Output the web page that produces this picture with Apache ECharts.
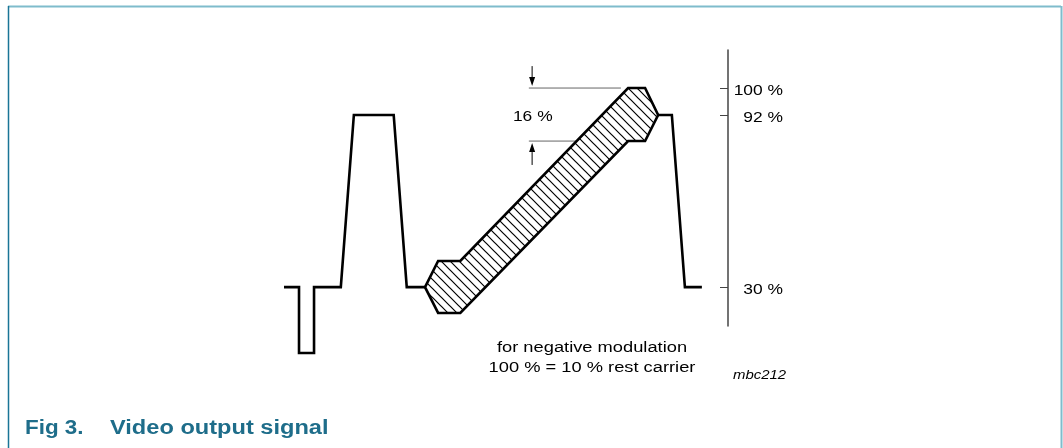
<!DOCTYPE html>
<html>
<head>
<meta charset="utf-8">
<script src="https://cdn.jsdelivr.net/npm/echarts@6/dist/echarts.min.js"></script>
<style>
html,body{margin:0;padding:0;background:#fff;}
#chart{width:1063px;height:448px;}
</style>
</head>
<body>
<div id="chart"></div>
<script>
// ---- data (time in µs along one video line, level in % of amplitude) ----
const waveLeftT  = [0, 2.3, 2.3, 4.6, 4.6, 8.7, 10.7, 16.8, 18.8, 21.6];
const waveLeftV  = [30, 30, 6.3, 6.3, 30, 30, 92, 92, 30, 30];
const waveRightT = [57.3, 59.4, 61.4, 64];
const waveRightV = [92, 92, 30, 30];
const rampT = [21.6, 23.6, 27.0, 52.7, 55.3, 57.3, 55.3, 52.7, 27.0, 23.6];
const rampV = [30, 39.4, 39.4, 101.7, 101.7, 92, 82.6, 82.6, 20.7, 20.7];
const tickLevels = [30, 92, 101.7];
const tickLabels = ['30 %', '92 %', '100 %'];
const dimLineT = [37.5, 51.6];
const dimLevels = [101.7, 82.6];
const arrowT = 38.0;
const arrowFrom = [109.6, 74.0];
const arrowTo = [101.7, 82.6];
const spanLabel = '16 %';
const spanLabelPos = [38.1, 91.3];
const noteLines = ['for negative modulation', '100 % = 10 % rest carrier'];
const figCode = 'mbc212';
const figNum = 'Fig 3.';
const figTitle = 'Video output signal';

const X_MAX = 68;
const FONT = '"Liberation Sans", Arial, Helvetica, sans-serif';
const SX = 1.2;

function zip(a, b) { return a.map((v, i) => [v, b[i]]); }

// hatch pattern
const tile = 9;
const pc = document.createElement('canvas');
pc.width = tile; pc.height = tile;
const ctx = pc.getContext('2d');
ctx.fillStyle = '#fff';
ctx.fillRect(0, 0, tile, tile);
ctx.strokeStyle = '#000';
ctx.lineWidth = 1.2;
ctx.beginPath();
ctx.moveTo(-1, -1); ctx.lineTo(tile + 1, tile + 1);
ctx.moveTo(-1, tile - 1); ctx.lineTo(1, tile + 1);
ctx.moveTo(tile - 1, -1); ctx.lineTo(tile + 1, 1);
ctx.stroke();

const chart = echarts.init(document.getElementById('chart'), null, {renderer: 'canvas'});

const option = {
  animation: false,
  backgroundColor: '#fff',
  grid: {left: 284, right: 335, top: 50, bottom: 122, containLabel: false},
  xAxis: {type: 'value', min: 0, max: X_MAX, show: false},
  yAxis: {
    type: 'value', min: 16, max: 115.4, position: 'right',
    splitLine: {show: false},
    axisLine: {show: true, onZero: false, lineStyle: {color: '#444', width: 1.5}},
    axisTick: {show: true, inside: true, length: 8, lineStyle: {color: '#444', width: 1}, customValues: tickLevels},
    axisLabel: {show: false}
  },
  graphic: [
    {type: 'line', shape: {x1: 8, y1: 6.5, x2: 1061, y2: 6.5}, style: {stroke: '#7fbccc', lineWidth: 2}},
    {type: 'line', shape: {x1: 8.5, y1: 6, x2: 8.5, y2: 448}, style: {stroke: '#1a7596', lineWidth: 1.5}},
    {type: 'line', shape: {x1: 1061.5, y1: 6, x2: 1061.5, y2: 448}, style: {stroke: '#7fbccc', lineWidth: 2}},
    {type: 'text', x: 592, y: 348, scaleX: 1.18, style: {text: noteLines[0], font: '15.5px ' + FONT, fill: '#000', align: 'center', verticalAlign: 'middle'}},
    {type: 'text', x: 592, y: 368, scaleX: 1.18, style: {text: noteLines[1], font: '15.5px ' + FONT, fill: '#000', align: 'center', verticalAlign: 'middle'}},
    {type: 'text', x: 733, y: 375, scaleX: 1.15, style: {text: figCode, font: 'italic 13px ' + FONT, fill: '#000', align: 'left', verticalAlign: 'middle'}},
    {type: 'text', x: 25, y: 428, scaleX: 1.12, style: {text: figNum, font: 'bold 20px ' + FONT, fill: '#1e6d8a', align: 'left', verticalAlign: 'middle'}},
    {type: 'text', x: 110, y: 428, scaleX: 1.18, style: {text: figTitle, font: 'bold 20px ' + FONT, fill: '#1e6d8a', align: 'left', verticalAlign: 'middle'}}
  ],
  series: [
    {
      type: 'custom', name: 'ramp', z: 2,
      coordinateSystem: 'cartesian2d',
      data: [0],
      clip: false,
      renderItem: function (params, api) {
        const pts = rampT.map((t, i) => api.coord([t, rampV[i]]));
        return {
          type: 'polygon',
          shape: {points: pts},
          style: {fill: {image: pc, repeat: 'repeat'}, stroke: '#000', lineWidth: 2.6, lineJoin: 'miter'}
        };
      }
    },
    {
      type: 'line', name: 'left', z: 3, data: zip(waveLeftT, waveLeftV),
      showSymbol: false, clip: false, lineStyle: {color: '#000', width: 2.6, join: 'miter'}
    },
    {
      type: 'line', name: 'right', z: 3, data: zip(waveRightT, waveRightV),
      showSymbol: false, clip: false, lineStyle: {color: '#000', width: 2.6, join: 'miter'}
    },
    {
      type: 'custom', name: 'dims', z: 1,
      coordinateSystem: 'cartesian2d',
      data: dimLevels.map((lv, i) => [i]),
      clip: false,
      renderItem: function (params, api) {
        const i = params.dataIndex;
        const a = api.coord([dimLineT[0], dimLevels[i]]);
        const b = api.coord([dimLineT[1], dimLevels[i]]);
        const p0 = api.coord([arrowT, arrowFrom[i]]);
        const p1 = api.coord([arrowT, arrowTo[i]]);
        const dir = p1[1] > p0[1] ? 1 : -1;
        const headLen = 9, headW = 3;
        const tipY = p1[1] - dir * 2;
        return {
          type: 'group',
          children: [
            {type: 'line', shape: {x1: a[0], y1: a[1], x2: b[0], y2: b[1]}, style: {stroke: '#666', lineWidth: 1}},
            {type: 'line', shape: {x1: p0[0], y1: p0[1], x2: p0[0], y2: tipY - dir * headLen}, style: {stroke: '#000', lineWidth: 1}},
            {type: 'polygon', shape: {points: [[p0[0], tipY], [p0[0] - headW, tipY - dir * headLen], [p0[0] + headW, tipY - dir * headLen]]}, style: {fill: '#000'}}
          ]
        };
      }
    },
    {
      type: 'custom', name: 'tickLabels', z: 4,
      coordinateSystem: 'cartesian2d',
      data: tickLevels.map((lv, i) => [X_MAX, lv, i]),
      clip: false,
      renderItem: function (params, api) {
        const i = params.dataIndex;
        const p = api.coord([X_MAX, tickLevels[i]]);
        return {
          type: 'text', x: p[0] + 55, y: p[1] + 3, scaleX: SX,
          style: {text: tickLabels[i], font: '14.5px ' + FONT, fill: '#000', align: 'right', verticalAlign: 'middle'}
        };
      }
    },
    {
      type: 'custom', name: 'spanLabel', z: 4,
      coordinateSystem: 'cartesian2d',
      data: [spanLabelPos],
      clip: false,
      renderItem: function (params, api) {
        const p = api.coord(spanLabelPos);
        return {
          type: 'text', x: p[0], y: p[1], scaleX: SX,
          style: {text: spanLabel, font: '14.5px ' + FONT, fill: '#000', align: 'center', verticalAlign: 'middle'}
        };
      }
    }
  ]
};
chart.setOption(option);
</script>
</body>
</html>
